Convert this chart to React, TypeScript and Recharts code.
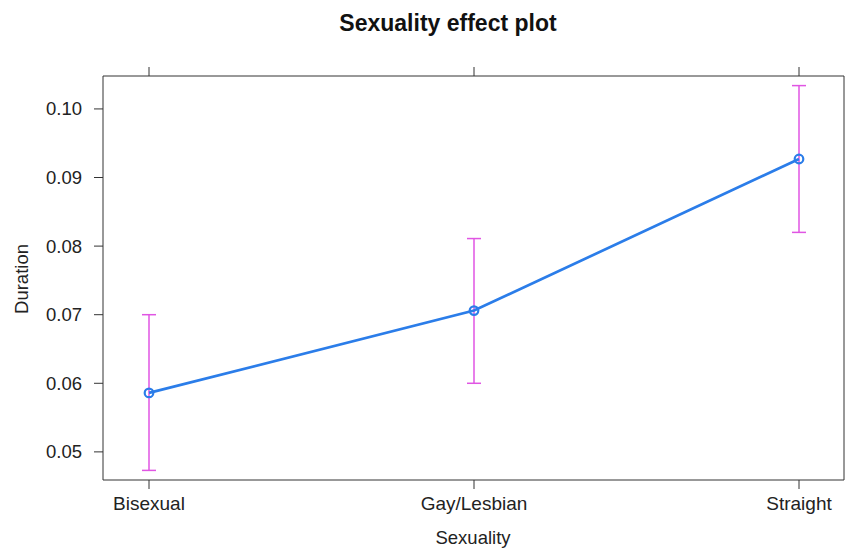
import { ComposedChart, Line, XAxis, YAxis, ErrorBar } from 'recharts'

const categories = ['Bisexual', 'Gay/Lesbian', 'Straight']
const fit = [0.0586, 0.0706, 0.0927]
const lower = [0.0473, 0.06, 0.082]
const upper = [0.07, 0.0811, 0.1034]
const yTicks = [0.05, 0.06, 0.07, 0.08, 0.09, 0.1]

const data = categories.map((cat, i) => ({
  cat,
  fit: fit[i],
  err: [fit[i] - lower[i], upper[i] - fit[i]],
}))

const font = '"Liberation Sans", Arial, sans-serif'
const axisColor = '#333'

export default function App() {
  return (
    <div style={{ position: 'absolute', left: 0, top: 0, width: 847, height: 548, background: '#fff', fontFamily: font }}>
      <div style={{ position: 'absolute', top: 10, left: 0, width: 896, textAlign: 'center', fontWeight: 'bold', fontSize: 23, color: '#111' }}>
        Sexuality effect plot
      </div>
      <div style={{ position: 'absolute', left: 22, top: 279, transform: 'translate(-50%, -50%) rotate(-90deg)', fontSize: 18.5, color: '#222', whiteSpace: 'nowrap' }}>
        Duration
      </div>
      <div style={{ position: 'absolute', left: 473, top: 538, transform: 'translate(-50%, -50%)', fontSize: 18.5, color: '#222' }}>
        Sexuality
      </div>
      <ComposedChart width={847} height={548} data={data} margin={{ top: 66, right: 0, bottom: 0, left: 0 }}>
        <XAxis
          dataKey="cat"
          height={68}
          padding={{ left: 46, right: 45 }}
          tickSize={9}
          tickMargin={8}
          stroke={axisColor}
          tick={{ fill: '#222', fontSize: 19, fontFamily: font }}
        />
        <XAxis
          xAxisId="top"
          dataKey="cat"
          orientation="top"
          height={10}
          padding={{ left: 46, right: 45 }}
          tickSize={9}
          stroke={axisColor}
          tick={() => <g />}
        />
        <YAxis
          width={103}
          domain={[0.0459, 0.1048]}
          ticks={yTicks}
          tickSize={9}
          tickMargin={12}
          stroke={axisColor}
          tickFormatter={(v: number) => v.toFixed(2)}
          tick={{ fill: '#222', fontSize: 18.5, fontFamily: font }}
        />
        <YAxis
          yAxisId="right"
          orientation="right"
          width={3}
          domain={[0.0459, 0.1048]}
          ticks={yTicks}
          tickSize={3}
          stroke={axisColor}
          tick={() => <g />}
        />
        <Line
          dataKey="fit"
          stroke="#2b7de9"
          strokeWidth={2.7}
          dot={{ r: 4.3, stroke: '#2b7de9', strokeWidth: 2.2, fill: 'none' }}
          isAnimationActive={false}
        >
          <ErrorBar dataKey="err" direction="y" width={7} stroke="#e055e3" strokeWidth={1.5} isAnimationActive={false} />
        </Line>
      </ComposedChart>
    </div>
  )
}
